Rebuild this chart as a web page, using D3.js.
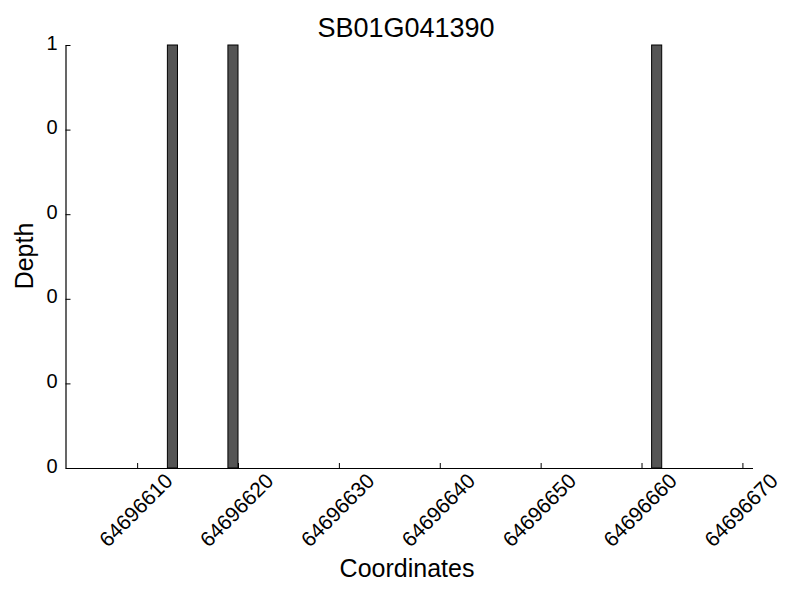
<!DOCTYPE html>
<html>
<head>
<meta charset="utf-8">
<script src="https://cdn.jsdelivr.net/npm/d3@7"></script>
<style>
body { margin: 0; background: #fff; }
text { font-family: "Liberation Sans", Arial, sans-serif; fill: #000; }
</style>
</head>
<body>
<svg id="chart" width="800" height="600"></svg>
<script>
const title = "SB01G041390";
const xLabel = "Coordinates";
const yLabel = "Depth";
const positions = [64696613, 64696619, 64696661];
const depths = [1, 1, 1];
const xTicks = [64696610, 64696620, 64696630, 64696640, 64696650, 64696660, 64696670];
const yTicks = [0, 0.2, 0.4, 0.6, 0.8, 1.0];
const yTickLabels = ["0", "0", "0", "0", "0", "1"];
const xDomain = [64696602.9, 64696671.0];

const svg = d3.select("#chart");
const m = { left: 65.5, right: 752.5, top: 45, bottom: 468 };

const x = d3.scaleLinear().domain(xDomain).range([m.left, m.right]);
const y = d3.scaleLinear().domain([0, 1]).range([m.bottom, m.top]);

// bars
svg.append("g").selectAll("rect").data(positions).join("rect")
  .attr("x", (d) => x(d))
  .attr("y", (d, i) => y(depths[i]))
  .attr("width", (d) => x(d + 1) - x(d))
  .attr("height", (d, i) => y(0) - y(depths[i]))
  .attr("fill", "#555555")
  .attr("stroke", "#000")
  .attr("stroke-width", 1);

// x axis
const xAxis = d3.axisBottom(x).tickValues(xTicks).tickSizeInner(-5).tickSizeOuter(0).tickFormat(d3.format("d"));
const gx = svg.append("g").attr("transform", `translate(0,${m.bottom})`).call(xAxis);
gx.select(".domain").attr("stroke", "#000").attr("stroke-width", 1.2);
gx.selectAll(".tick line").attr("stroke", "#000");
gx.selectAll(".tick text")
  .attr("font-size", 21)
  .attr("text-anchor", "middle")
  .attr("dominant-baseline", "central")
  .attr("dy", null)
  .attr("x", -2)
  .attr("y", 42)
  .attr("transform", "rotate(-45, -2, 42)");

// y axis
const yAxis = d3.axisLeft(y).tickValues(yTicks).tickSizeInner(-5).tickSizeOuter(0)
  .tickFormat((d, i) => yTickLabels[i]);
const gy = svg.append("g").attr("transform", `translate(${m.left},0)`).call(yAxis);
gy.select(".domain").attr("stroke", "#000").attr("stroke-width", 1.2);
gy.selectAll(".tick line").attr("stroke", "#000");
gy.selectAll(".tick text").attr("font-size", 20).attr("x", -8).attr("dy", "0.2em");

// title & labels
svg.append("text").attr("x", 406).attr("y", 37).attr("text-anchor", "middle")
  .attr("font-size", 27).text(title);
svg.append("text").attr("x", 407).attr("y", 577).attr("text-anchor", "middle")
  .attr("font-size", 25).text(xLabel);
svg.append("text").attr("transform", "translate(33,256) rotate(-90)").attr("text-anchor", "middle")
  .attr("font-size", 25).text(yLabel);
</script>
</body>
</html>
